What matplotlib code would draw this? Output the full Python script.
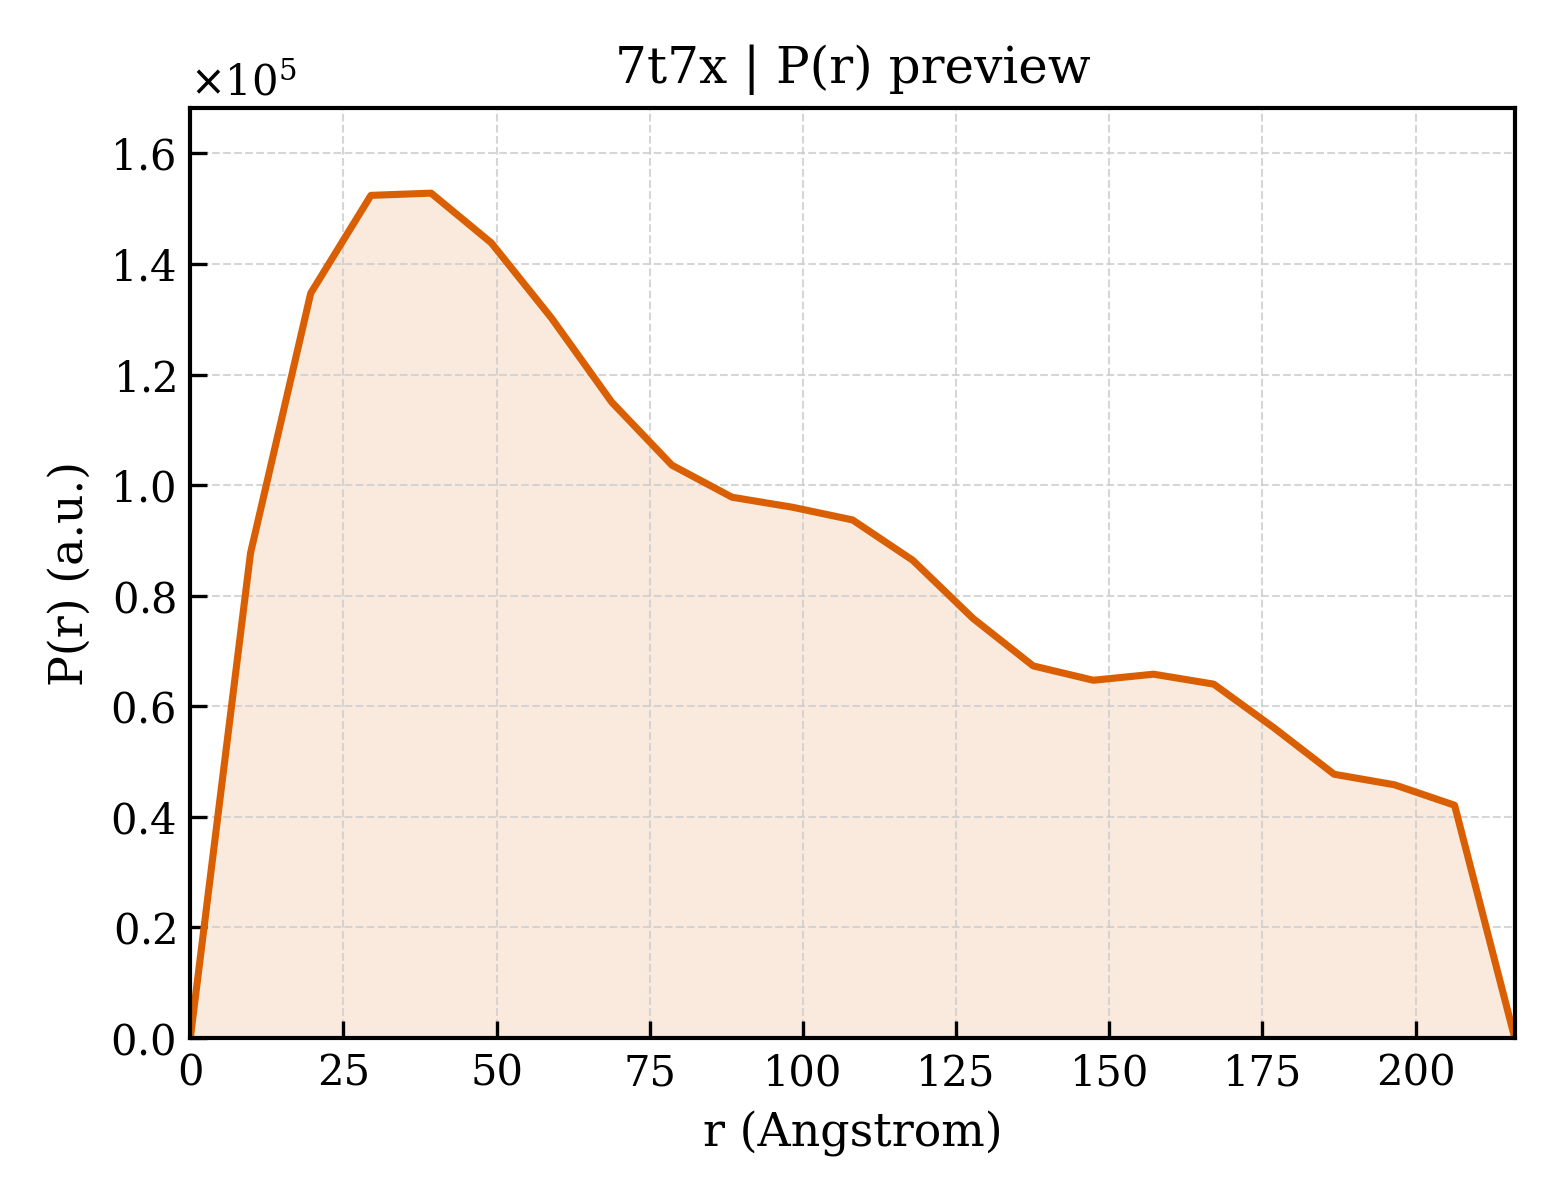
import numpy as np
import matplotlib
matplotlib.use("Agg")
import matplotlib.pyplot as plt

# P(r) preview for 7t7x
dmax = 216.2
r = np.linspace(0, dmax, 23)
pr = [0.0, 0.877, 1.347, 1.524, 1.528, 1.438, 1.302, 1.150, 1.036, 0.978,
      0.960, 0.937, 0.864, 0.759, 0.673, 0.647, 0.658, 0.640, 0.561, 0.477,
      0.458, 0.421, 0.0]
pr = np.array(pr) * 1e5

plt.rcParams['font.family'] = 'DejaVu Serif'
plt.rcParams['font.size'] = 10

fig, ax = plt.subplots(figsize=(5.2, 4), dpi=300)
color = '#d95f02'
ax.fill_between(r, pr, 0, color=color, alpha=0.13, linewidth=0)
ax.plot(r, pr, color=color, lw=1.7)

ax.set_xlim(0, dmax)
ax.set_ylim(0, 1.682e5)
ax.set_xlabel('r (Angstrom)', fontsize=11)
ax.set_ylabel('P(r) (a.u.)', fontsize=11)
ax.set_title('7t7x | P(r) preview', fontsize=12)
ax.ticklabel_format(axis='y', style='sci', scilimits=(0, 0), useMathText=True)
ax.tick_params(direction='in', length=4, width=0.8)
ax.grid(True, ls='--', lw=0.5, color='#cccccc', alpha=0.8)
for s in ax.spines.values():
    s.set_linewidth(1.0)

plt.subplots_adjust(left=0.122, right=0.971, bottom=0.135, top=0.91)
plt.savefig('out.png', dpi=300)
